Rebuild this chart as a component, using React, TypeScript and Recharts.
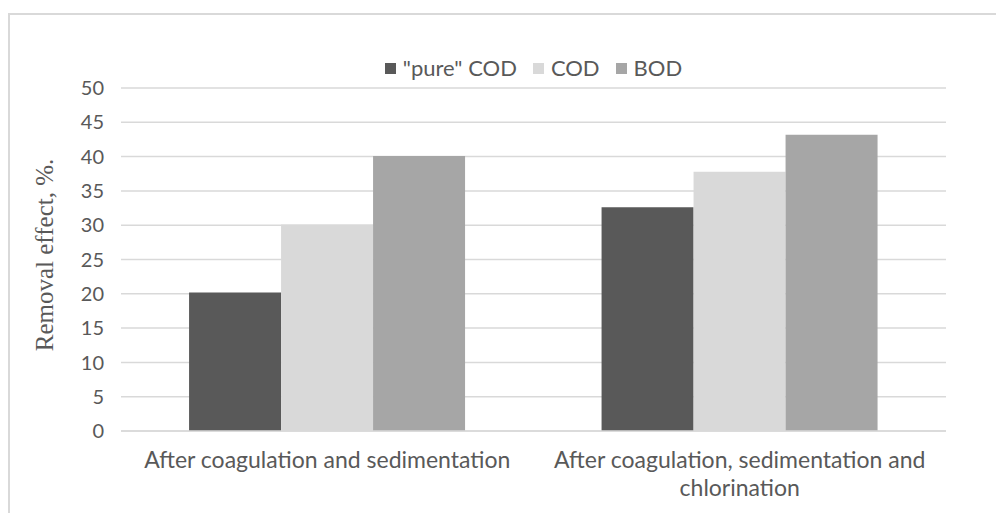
import React from "react";
import { BarChart, Bar, XAxis, YAxis, CartesianGrid, Legend } from "recharts";

const categories = [
  "After coagulation and sedimentation",
  "After coagulation, sedimentation and chlorination",
];
const pureCOD = [20.2, 32.6];
const codValues = [30.1, 37.8];
const bodValues = [40.1, 43.2];
const yTicks = [0, 5, 10, 15, 20, 25, 30, 35, 40, 45, 50];

const seriesNames = ['"pure" COD', "COD", "BOD"];
const seriesColors = ["#595959", "#d9d9d9", "#a6a6a6"];

const data = categories.map((c, i) => ({
  name: c,
  pure: pureCOD[i],
  cod: codValues[i],
  bod: bodValues[i],
}));

const TEXT = "#595959";
const FONT = "Lato, 'Open Sans', sans-serif";
const XFONT_SIZE = 23;
const WRAP_WIDTH = 400;

let measureCtx: CanvasRenderingContext2D | null = null;
function measure(s: string): number {
  if (typeof document === "undefined") return s.length * XFONT_SIZE * 0.5;
  if (!measureCtx) {
    const c = document.createElement("canvas");
    measureCtx = c.getContext("2d");
  }
  if (!measureCtx) return s.length * XFONT_SIZE * 0.5;
  measureCtx.font = `${XFONT_SIZE}px Lato`;
  return measureCtx.measureText(s).width;
}

function wrap(s: string, maxW: number): string[] {
  const words = s.split(" ");
  const lines: string[] = [];
  let cur = "";
  for (const w of words) {
    const test = cur ? cur + " " + w : w;
    if (cur && measure(test) > maxW) {
      lines.push(cur);
      cur = w;
    } else {
      cur = test;
    }
  }
  if (cur) lines.push(cur);
  return lines;
}

const XTick = (props: any) => {
  const { x, y, payload } = props;
  const lines = wrap(String(payload.value), WRAP_WIDTH);
  return (
    <text
      x={x}
      y={y}
      textAnchor="middle"
      fill={TEXT}
      style={{ fontFamily: FONT, fontSize: XFONT_SIZE }}
    >
      {lines.map((l, i) => (
        <tspan key={i} x={x} dy={i === 0 ? "0.71em" : 28}>
          {l}
        </tspan>
      ))}
    </text>
  );
};

const LegendContent = () => (
  <div
    style={{
      display: "flex",
      justifyContent: "center",
      alignItems: "center",
      fontFamily: FONT,
      fontSize: 22,
      color: TEXT,
      lineHeight: "26px",
    }}
  >
    {seriesNames.map((n, i) => (
      <div
        key={i}
        style={{ display: "flex", alignItems: "center", marginRight: i < seriesNames.length - 1 ? 16 : 0 }}
      >
        <span style={{ display: "inline-block", width: 11, height: 11, background: seriesColors[i], marginRight: 7 }} />
        <span>{n}</span>
      </div>
    ))}
  </div>
);

export default function App() {
  return (
    <div style={{ position: "fixed", left: 0, top: 0, width: 996, height: 513, overflow: "hidden", background: "#fff" }}>
      <div
        style={{
          position: "absolute",
          left: 8,
          top: 13,
          width: 1100,
          height: 600,
          borderTop: "2px solid #d9d9d9",
          borderLeft: "2px solid #d9d9d9",
        }}
      />
      <div style={{ position: "absolute", left: 0, top: 0 }}>
        <BarChart
          width={996}
          height={513}
          data={data}
          margin={{ top: 88, right: 50, left: 0, bottom: 0 }}
          barCategoryGap="16.5%"
          barGap={0}
        >
          <CartesianGrid vertical={false} stroke="#d9d9d9" strokeWidth={1.5} />
          <XAxis
            dataKey="name"
            height={82}
            tickLine={false}
            axisLine={{ stroke: "#d9d9d9", strokeWidth: 1.5 }}
            tickSize={0}
            tickMargin={21}
            tick={<XTick />}
            interval={0}
          />
          <YAxis
            width={121}
            domain={[0, 50]}
            ticks={yTicks}
            interval={0}
            axisLine={false}
            tickLine={false}
            tickSize={0}
            tickMargin={17}
            tick={{ fill: TEXT, fontSize: 20, fontFamily: FONT }}
          />
          <Legend
            layout="horizontal"
            verticalAlign="middle"
            align="center"
            content={<LegendContent />}
            wrapperStyle={{ top: 55, left: 121, width: 825 }}
          />
          <Bar dataKey="pure" name={seriesNames[0]} fill={seriesColors[0]} isAnimationActive={false} />
          <Bar dataKey="cod" name={seriesNames[1]} fill={seriesColors[1]} isAnimationActive={false} />
          <Bar dataKey="bod" name={seriesNames[2]} fill={seriesColors[2]} isAnimationActive={false} />
        </BarChart>
      </div>
      <div
        style={{
          position: "absolute",
          left: 45,
          top: 255,
          transform: "translate(-50%, -50%) rotate(-90deg)",
          whiteSpace: "nowrap",
          fontFamily: "'Liberation Serif', 'Times New Roman', serif",
          fontSize: 25,
          color: TEXT,
        }}
      >
        Removal effect, %.
      </div>
    </div>
  );
}
